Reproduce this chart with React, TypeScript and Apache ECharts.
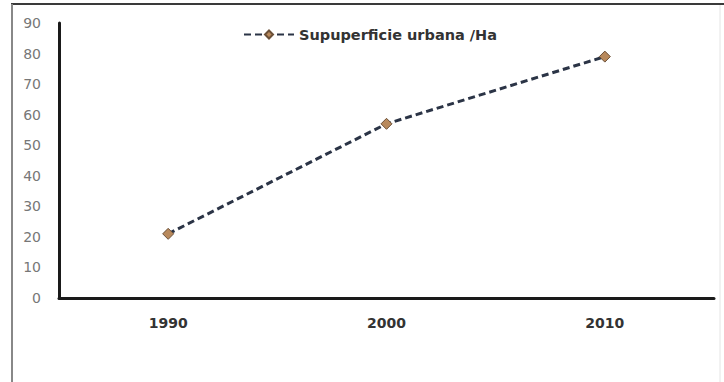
import React, { useEffect, useRef } from "react";
import * as echarts from "echarts";

const categories = ["1990", "2000", "2010"];
const seriesName = "Supuperficie urbana /Ha";
const values = [21, 57, 79];
const yMin = 0;
const yMax = 90;
const yInterval = 10;

export default function App() {
  const ref = useRef<HTMLDivElement>(null);
  useEffect(() => {
    document.body.style.margin = "0";
    const chart = echarts.init(ref.current!, null, { renderer: "svg" });
    chart.setOption({
      animation: false,
      backgroundColor: "#ffffff",
      grid: { left: 59, right: 10, top: 23, bottom: 84, containLabel: false },
      legend: {
        left: 238,
        top: 22,
        itemWidth: 50,
        itemHeight: 10,
        itemGap: 5,
        data: [seriesName],
        textStyle: {
          fontFamily: "DejaVu Sans",
          fontWeight: "bold",
          fontSize: 14.5,
          color: "#333",
        },
      },
      xAxis: {
        type: "category",
        data: categories,
        boundaryGap: true,
        axisLine: { lineStyle: { color: "#1a1a1a", width: 3 } },
        axisTick: { show: false },
        axisLabel: {
          margin: 18,
          fontFamily: "DejaVu Sans",
          fontWeight: "bold",
          fontSize: 14,
          color: "#333",
        },
        splitLine: { show: false },
      },
      yAxis: {
        type: "value",
        min: yMin,
        max: yMax,
        interval: yInterval,
        axisLine: { show: true, lineStyle: { color: "#1a1a1a", width: 3 } },
        axisTick: { show: false },
        splitLine: { show: false },
        axisLabel: {
          margin: 18,
          fontFamily: "DejaVu Sans",
          fontSize: 14,
          color: "#777",
        },
      },
      series: [
        {
          name: seriesName,
          type: "line",
          data: values,
          symbol: "diamond",
          symbolSize: 11,
          lineStyle: { color: "#2b3446", width: 3, type: [7, 4] },
          itemStyle: { color: "#b8895c", borderColor: "#6b5038", borderWidth: 1 },
        },
      ],
      graphic: [
        {
          type: "line",
          shape: { x1: 11, y1: 4, x2: 724, y2: 4 },
          style: { stroke: "#3a3a3a", lineWidth: 2 },
          silent: true,
        },
        {
          type: "line",
          shape: { x1: 12, y1: 4, x2: 12, y2: 382 },
          style: { stroke: "#888", lineWidth: 2 },
          silent: true,
        },
        {
          type: "line",
          shape: { x1: 720, y1: 5, x2: 720, y2: 382 },
          style: { stroke: "#e4e4e4", lineWidth: 1 },
          silent: true,
        },
      ],
    });
    return () => chart.dispose();
  }, []);
  return (
    <div
      ref={ref}
      style={{ position: "absolute", left: 0, top: 0, width: 724, height: 382 }}
    />
  );
}
